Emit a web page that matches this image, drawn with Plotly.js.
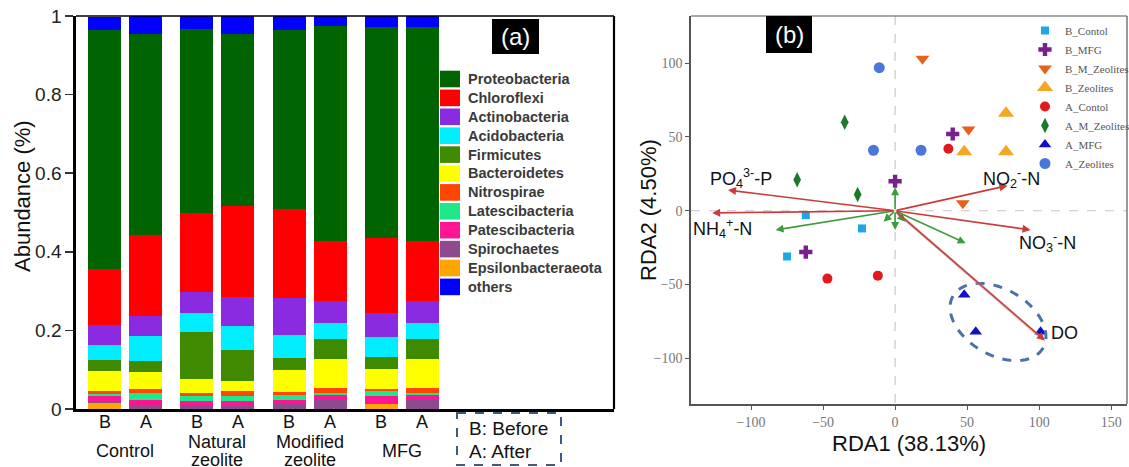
<!DOCTYPE html>
<html><head><meta charset="utf-8">
<script src="https://cdn.plot.ly/plotly-3.0.1.min.js"></script>
<style>html,body{margin:0;padding:0;background:#fff}#chart{width:1129px;height:467px}</style>
</head><body><div id="chart"></div>
<script>
// ---------- Panel (a) data ----------
const sampleLabels = ['B','A','B','A','B','A','B','A'];
const groupLabels = [['Control'],['Natural','zeolite'],['Modified','zeolite'],['MFG']];
const phyla = ['Proteobacteria','Chloroflexi','Actinobacteria','Acidobacteria','Firmicutes','Bacteroidetes','Nitrospirae','Latescibacteria','Patescibacteria','Spirochaetes','Epsilonbacteraeota','others'];
const phylumColors = ['#006400','#ff0000','#8a2be2','#00eeff','#3f8a00','#ffff00','#ff4500','#1ee88a','#ff1493','#8e4a8e','#ffa500','#0000ff'];
// columns: Control B, Control A, Natural B, Natural A, Modified B, Modified A, MFG B, MFG A
const proteobacteria   = [0.609,0.511,0.468,0.438,0.457,0.547,0.536,0.545];
const chloroflexi      = [0.140,0.207,0.203,0.233,0.225,0.151,0.192,0.151];
const actinobacteria   = [0.051,0.052,0.053,0.074,0.094,0.057,0.061,0.057];
const acidobacteria    = [0.039,0.062,0.047,0.059,0.060,0.040,0.051,0.040];
const firmicutes       = [0.028,0.028,0.120,0.079,0.031,0.051,0.031,0.051];
const bacteroidetes    = [0.051,0.044,0.037,0.027,0.056,0.075,0.049,0.075];
const nitrospirae      = [0.009,0.011,0.008,0.013,0.006,0.013,0.007,0.013];
const latescibacteria  = [0.004,0.017,0.011,0.011,0.0125,0.004,0.013,0.004];
const patescibacteria  = [0.015,0.014,0.012,0.014,0.0115,0.014,0.017,0.014];
const spirochaetes     = [0.002,0.009,0.009,0.007,0.012,0.022,0.001,0.022];
const epsilonbacteraeota=[0.016,0,0,0,0,0,0.014,0];
const others           = [0.034,0.045,0.032,0.045,0.035,0.026,0.028,0.028];
const phylumValues = [proteobacteria,chloroflexi,actinobacteria,acidobacteria,firmicutes,bacteroidetes,nitrospirae,latescibacteria,patescibacteria,spirochaetes,epsilonbacteraeota,others];

// ---------- Panel (b) data ----------
const siteNames = ['B_Contol','B_MFG','B_M_Zeolites','B_Zeolites','A_Contol','A_M_Zeolites','A_MFG','A_Zeolites'];
const siteX = [[-62,-23,-75],[-62,0,40],[19,51,47],[77,48,77],[37,-47,-12],[-35,-68,-26],[48,56,101],[-11,-15,18]];
const siteY = [[-3,-12,-31],[-28,20,52],[103,55,5],[66,40,40],[42,-46,-44],[60,21,11],[-57,-82,-82],[97,41,41]];
const siteColors = ['#1ea7e6','#7a1f8c','#e8601c','#f5a623','#e3191c','#1b7a2a','#1010c8','#4a78d8'];
const siteSymbols = ['square','cross','triangle-down','triangle-up','circle','diamond-tall','triangle-up','circle'];
const siteSizes = [8,11,12,14,10,11,11,11];

const envNames = ['PO<sub>4</sub><sup>3-</sup>-P','NH<sub>4</sub><sup>+</sup>-N','NO<sub>2</sub><sup>-</sup>-N','NO<sub>3</sub><sup>-</sup>-N','DO'];
const envX = [-116,-127,78,94,104];
const envY = [14,-1.5,17,-13,-88];
const speciesX = [-83,49,0,0,-8,7];
const speciesY = [-13,-22,16,-13,-7.5,-7.5];

// ---------- layout helpers (pixels -> paper) ----------
const W=1129,H=467;
const px=p=>p/W, py=p=>1-p/H;
const A_L=76,A_R=614,A_T=16,A_B=409;
const B_L=691,B_R=1127,B_T=16,B_B=404;
const bxr=[-141.7,161], byr=[-131,132];
const toBX=p=>bxr[0]+(p-B_L)/(B_R-B_L)*(bxr[1]-bxr[0]);
const toBY=p=>byr[0]+(B_B-p)/(B_B-B_T)*(byr[1]-byr[0]);

const barPos = sampleLabels.map((s,i)=>104.5+Math.floor(i/2)*92.3+(i%2)*41);

const traces=[];
const stackOrder=[10,9,8,7,6,5,4,3,2,1,0,11];
stackOrder.forEach(k=>{
  traces.push({type:'bar',x:barPos,y:phylumValues[k],width:33,name:phyla[k],
    marker:{color:phylumColors[k],line:{width:0}},xaxis:'x',yaxis:'y',showlegend:false,hoverinfo:'skip'});
});
siteNames.forEach((n,i)=>{
  traces.push({type:'scatter',mode:'markers',x:siteX[i],y:siteY[i],name:n,xaxis:'x2',yaxis:'y2',
    marker:{symbol:siteSymbols[i],size:siteSizes[i],color:siteColors[i],line:{width:0}}});
});

const shapes=[], annotations=[];
const sans='Liberation Sans, Arial';
// panel a frame
shapes.push({type:'line',xref:'paper',yref:'paper',x0:px(A_L),x1:px(A_R),y0:py(A_T),y1:py(A_T),line:{color:'#000',width:1.5}});
shapes.push({type:'line',xref:'paper',yref:'paper',x0:px(A_R),x1:px(A_R),y0:py(A_T),y1:py(A_B),line:{color:'#000',width:2.2}});
// (a) label
shapes.push({type:'rect',xref:'paper',yref:'paper',x0:px(492),x1:px(539),y0:py(19),y1:py(54),fillcolor:'#000',line:{width:0}});
annotations.push({xref:'paper',yref:'paper',x:px(515.5),y:py(36.5),text:'(a)',showarrow:false,font:{family:sans,size:24,color:'#fff'},xanchor:'center',yanchor:'middle'});
// phyla legend
phyla.forEach((n,i)=>{
  const cy=79+i*18.9;
  shapes.push({type:'rect',xref:'paper',yref:'paper',x0:px(440),x1:px(460),y0:py(cy-8.3),y1:py(cy+8.3),fillcolor:phylumColors[i],line:{width:0}});
  annotations.push({xref:'paper',yref:'paper',x:px(466),y:py(cy),text:'<b>'+n+'</b>',showarrow:false,xanchor:'left',yanchor:'middle',font:{family:sans,size:14.5,color:'#3a3a3a'}});
});
// sample labels
sampleLabels.forEach((s,i)=>{
  annotations.push({xref:'x',yref:'paper',x:barPos[i],y:py(422),text:s,showarrow:false,xanchor:'center',yanchor:'middle',font:{family:sans,size:18,color:'#111'}});
});
groupLabels.forEach((g,gi)=>{
  const gx=(barPos[2*gi]+barPos[2*gi+1])/2;
  const ys = g.length>1 ? [442,460] : [451];
  g.forEach((line,li)=>{
    annotations.push({xref:'x',yref:'paper',x:gx,y:py(ys[li]),text:line,showarrow:false,xanchor:'center',yanchor:'middle',font:{family:sans,size:18,color:'#111'}});
  });
});
annotations.push({xref:'paper',yref:'paper',x:px(22),y:py(196),text:'Abundance (%)',textangle:-90,showarrow:false,xanchor:'center',yanchor:'middle',font:{family:sans,size:22,color:'#111'}});
// B/A box
shapes.push({type:'rect',xref:'paper',yref:'paper',x0:px(457),x1:px(561),y0:py(413),y1:py(465),line:{color:'#3d5a80',width:2,dash:'dash'}});
annotations.push({xref:'paper',yref:'paper',x:px(467),y:py(428),text:'B: Before',showarrow:false,xanchor:'left',yanchor:'middle',font:{family:sans,size:19,color:'#111'}});
annotations.push({xref:'paper',yref:'paper',x:px(467),y:py(451),text:'A: After',showarrow:false,xanchor:'left',yanchor:'middle',font:{family:sans,size:19,color:'#111'}});

// panel b frame
shapes.push({type:'line',xref:'paper',yref:'paper',x0:px(B_L),x1:px(B_R),y0:py(B_T),y1:py(B_T),line:{color:'#555',width:1.2}});
shapes.push({type:'line',xref:'paper',yref:'paper',x0:px(B_R),x1:px(B_R),y0:py(B_T),y1:py(B_B),line:{color:'#555',width:1.2}});
shapes.push({type:'line',xref:'x2',yref:'paper',x0:0,x1:0,y0:py(B_T),y1:py(B_B),line:{color:'#c8c8c8',width:1.2,dash:'dash'},layer:'below'});
shapes.push({type:'line',xref:'paper',yref:'y2',x0:px(B_L),x1:px(B_R),y0:0,y1:0,line:{color:'#c8c8c8',width:1.2,dash:'dash'},layer:'below'});
shapes.push({type:'rect',xref:'paper',yref:'paper',x0:px(766),x1:px(812),y0:py(16),y1:py(53),fillcolor:'#000',line:{width:0}});
annotations.push({xref:'paper',yref:'paper',x:px(789),y:py(34.5),text:'(b)',showarrow:false,font:{family:sans,size:24,color:'#fff'},xanchor:'center',yanchor:'middle'});
// axis titles
annotations.push({xref:'paper',yref:'paper',x:px(909),y:py(443),text:'RDA1 (38.13%)',showarrow:false,xanchor:'center',yanchor:'middle',font:{family:sans,size:22,color:'#111'}});
annotations.push({xref:'paper',yref:'paper',x:px(648),y:py(210),text:'RDA2 (4.50%)',textangle:-90,showarrow:false,xanchor:'center',yanchor:'middle',font:{family:sans,size:22,color:'#111'}});

// ellipse (dashed)
(function(){
  const cx=998,cy=322,a=52,b=33,th=30*Math.PI/180;let d='';
  for(let k=0;k<=72;k++){const t=k/72*2*Math.PI;
    const X=cx+a*Math.cos(t)*Math.cos(th)-b*Math.sin(t)*Math.sin(th);
    const Y=cy+a*Math.cos(t)*Math.sin(th)+b*Math.sin(t)*Math.cos(th);
    d+=(k?'L':'M')+toBX(X).toFixed(2)+','+toBY(Y).toFixed(2);}
  shapes.push({type:'path',xref:'x2',yref:'y2',path:d+'Z',line:{color:'#4a72a8',width:3,dash:'dash'}});
})();

// faint gray arrow along DO
annotations.push({xref:'x2',yref:'y2',axref:'x2',ayref:'y2',x:100,y:-85,ax:0,ay:0,text:'',showarrow:true,arrowhead:0,arrowwidth:3,arrowcolor:'rgba(180,180,180,0.6)'});
// species arrows (green)
speciesX.forEach((x,i)=>{
  annotations.push({xref:'x2',yref:'y2',axref:'x2',ayref:'y2',x:x,y:speciesY[i],ax:0,ay:0,text:'',showarrow:true,arrowhead:2,arrowsize:1,arrowwidth:1.6,arrowcolor:'#3a9e3a',standoff:0,startstandoff:0});
});
// environmental arrows (red)
const envLabelPx=[[741,178],[723,228],[1012,178],[1047,242],[1064,333]];
envX.forEach((x,i)=>{
  annotations.push({xref:'x2',yref:'y2',axref:'x2',ayref:'y2',x:x,y:envY[i],ax:0,ay:0,text:'',showarrow:true,arrowhead:2,arrowsize:1,arrowwidth:1.6,arrowcolor:'#cc3a3a',standoff:0,startstandoff:0});
  annotations.push({xref:'paper',yref:'paper',x:px(envLabelPx[i][0]),y:py(envLabelPx[i][1]),text:envNames[i],showarrow:false,xanchor:'center',yanchor:'middle',font:{family:sans,size:18,color:'#111'}});
});

const layout={
  width:W,height:H,margin:{l:0,r:0,t:0,b:0,pad:0,autoexpand:false},paper_bgcolor:'#fff',plot_bgcolor:'rgba(0,0,0,0)',
  barmode:'stack',bargap:0,
  xaxis:{domain:[px(A_L),px(A_R)],range:[A_L,A_R],showgrid:false,zeroline:false,showline:true,linewidth:3,linecolor:'#000',showticklabels:false,ticks:'',fixedrange:true,automargin:false},
  yaxis:{domain:[py(A_B),py(A_T)],range:[0,1],tickvals:[0,0.2,0.4,0.6,0.8,1],ticktext:['0','0.2','0.4','0.6','0.8','1'],ticks:'outside',ticklen:8,tickwidth:1.5,tickcolor:'#333',showline:true,linewidth:2.7,linecolor:'#000',showgrid:false,zeroline:false,automargin:false,tickfont:{family:sans,size:19,color:'#222'}},
  xaxis2:{domain:[px(B_L),px(B_R)],range:bxr,anchor:'y2',tickvals:[-100,-50,0,50,100,150],ticks:'outside',ticklen:4,tickcolor:'#555',showline:true,linewidth:1.8,linecolor:'#555',showgrid:false,zeroline:false,automargin:false,tickfont:{family:'Liberation Serif, Times New Roman',size:14,color:'#777'}},
  yaxis2:{domain:[py(B_B),py(B_T)],range:byr,anchor:'x2',tickvals:[-100,-50,0,50,100],ticks:'outside',ticklen:4,tickcolor:'#555',showline:true,linewidth:1.8,linecolor:'#555',showgrid:false,zeroline:false,automargin:false,tickfont:{family:'Liberation Serif, Times New Roman',size:14,color:'#777'}},
  legend:{x:px(1025),y:py(16),xanchor:'left',yanchor:'top',traceorder:'normal',bgcolor:'rgba(0,0,0,0)',font:{family:'Liberation Serif, Times New Roman',size:11,color:'#555'},tracegroupgap:0,itemwidth:30},
  shapes:shapes,annotations:annotations,showlegend:true
};
Plotly.newPlot('chart',traces,layout,{staticPlot:true,displayModeBar:false});
</script></body></html>
